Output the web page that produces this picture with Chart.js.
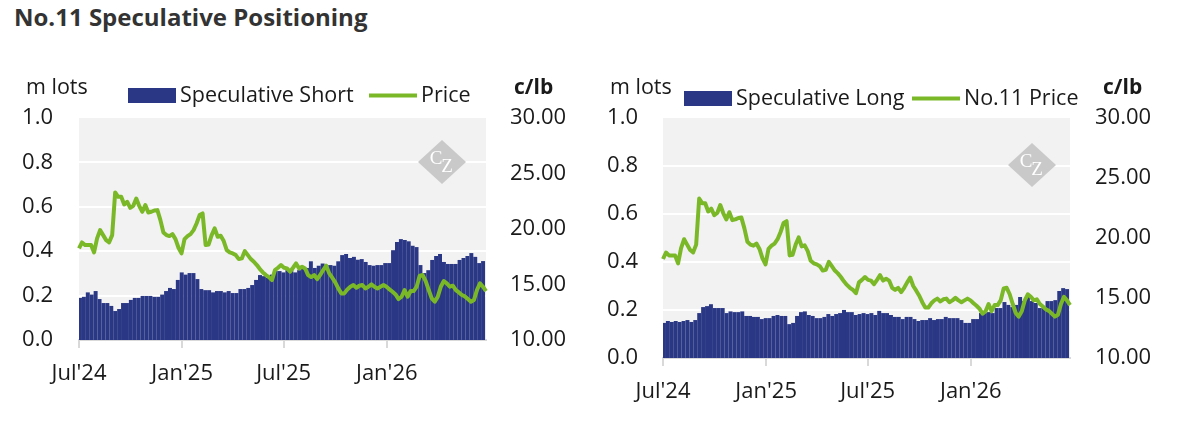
<!DOCTYPE html>
<html>
<head>
<meta charset="utf-8">
<script src="https://cdn.jsdelivr.net/npm/chart.js@4.4.0/dist/chart.umd.min.js"></script>
<style>
  body { margin: 0; background: #fff; font-family: 'Open Sans', sans-serif; }
  #wrap { position: relative; width: 1183px; height: 434px; overflow: hidden; }
  h1 { position: absolute; left: 14px; top: -1px; margin: 0; font-size: 24px; line-height: 36px; font-weight: bold; color: #333; }
  .box { position: absolute; top: 0; height: 434px; }
</style>
</head>
<body>
<div id="wrap">
  <h1>No.11 Speculative Positioning</h1>
  <div class="box" style="left:0;width:590px"><canvas id="left"></canvas></div>
  <div class="box" style="left:590px;width:593px"><canvas id="right"></canvas></div>
</div>
<script>
// time axis
const startDate = '2024-07-01';
const endDate = '2026-06-27';
const tickDates = ['2024-07-01', '2025-01-01', '2025-07-01', '2026-01-01'];
const tickLabels = ["Jul'24", "Jan'25", "Jul'25", "Jan'26"];

// weekly positions, m lots
const speculativeShort = [
  0.185, 0.19, 0.21, 0.20, 0.216, 0.18, 0.162, 0.162, 0.149, 0.126,
  0.135, 0.162, 0.162, 0.176, 0.185, 0.185, 0.194, 0.194, 0.194, 0.19,
  0.19, 0.20, 0.216, 0.23, 0.225, 0.266, 0.30, 0.29, 0.297, 0.297,
  0.27, 0.225, 0.22, 0.22, 0.21, 0.216, 0.216, 0.21, 0.216, 0.207,
  0.207, 0.225, 0.225, 0.23, 0.243, 0.266, 0.288, 0.283, 0.275, 0.29,
  0.306, 0.306, 0.30, 0.31, 0.31, 0.30, 0.31, 0.32, 0.32, 0.35,
  0.32, 0.33, 0.34, 0.333, 0.333, 0.33, 0.35, 0.378, 0.383, 0.365,
  0.37, 0.357, 0.36, 0.347, 0.333, 0.33, 0.333, 0.333, 0.342, 0.342,
  0.40, 0.437, 0.45, 0.446, 0.44, 0.42, 0.414, 0.333, 0.297, 0.31,
  0.356, 0.374, 0.383, 0.347, 0.338, 0.338, 0.338, 0.356, 0.365, 0.374,
  0.387, 0.37, 0.342, 0.351
];
const speculativeLong = [
  0.142, 0.15, 0.146, 0.15, 0.146, 0.15, 0.154, 0.146, 0.154, 0.183,
  0.208, 0.212, 0.22, 0.204, 0.204, 0.204, 0.183, 0.19, 0.187, 0.187,
  0.19, 0.171, 0.171, 0.167, 0.167, 0.158, 0.162, 0.162, 0.171, 0.175,
  0.171, 0.171, 0.137, 0.142, 0.171, 0.187, 0.19, 0.175, 0.171, 0.162,
  0.162, 0.167, 0.179, 0.171, 0.179, 0.183, 0.196, 0.187, 0.187, 0.175,
  0.179, 0.183, 0.179, 0.183, 0.175, 0.192, 0.183, 0.183, 0.175, 0.167,
  0.167, 0.158, 0.167, 0.167, 0.158, 0.15, 0.154, 0.154, 0.162, 0.154,
  0.158, 0.158, 0.167, 0.162, 0.162, 0.162, 0.154, 0.142, 0.142, 0.158,
  0.158, 0.183, 0.183, 0.187, 0.183, 0.204, 0.204, 0.229, 0.217, 0.208,
  0.217, 0.25, 0.233, 0.25, 0.233, 0.225, 0.204, 0.204, 0.233, 0.233,
  0.237, 0.275, 0.287, 0.283
];
// No.11 price, c/lb
const no11Price = [
  18.25, 18.79, 18.55, 18.55, 18.55, 17.89, 19.15, 19.9, 19.45, 19.0,
  18.8, 19.45, 23.29, 22.9, 22.9, 22.21, 22.45, 21.91, 22.09, 22.75,
  22.06, 21.55, 22.15, 21.49, 21.55, 21.67, 21.7, 20.8, 19.69, 19.45,
  19.36, 19.54, 19.09, 18.31, 17.8, 19.09, 19.36, 19.54, 19.9, 20.5,
  21.25, 21.4, 18.55, 18.61, 19.45, 20.05, 19.3, 19.39, 18.91, 18.1,
  17.89, 17.8, 17.65, 17.29, 17.35, 18.01, 17.65, 17.29, 17.05, 16.75,
  16.39, 16.09, 15.85, 15.67, 15.4, 16.3, 16.51, 16.75, 16.51, 16.45,
  16.15, 16.51, 16.9, 16.45, 16.6, 16.45, 15.85, 15.67, 15.85, 15.49,
  15.85, 16.3, 16.7, 16.0, 15.61, 15.19, 14.65, 14.2, 14.2, 14.56,
  14.8, 14.95, 14.71, 14.89, 14.95, 14.65, 14.8, 15.01, 14.8, 14.65,
  14.8, 14.95, 14.8, 14.56, 14.35, 14.11, 13.69, 13.9, 14.5, 13.9,
  14.41, 14.41, 14.8, 15.79, 15.85, 15.31, 14.5, 13.75, 13.45, 13.9,
  14.8, 15.31, 15.1, 14.8, 14.89, 14.5, 14.29, 14.05, 13.93, 13.69,
  13.45, 13.6, 14.5, 15.1, 14.8, 14.41
];

const NAVY = '#2a3784';
const GREEN = '#7ab828';
const TEXT = '#1a1a1a';
const FONT = 'Open Sans';

function dayOf(d) {
  return (Date.parse(d) - Date.parse(startDate)) / 86400000;
}

function weekLabels(n) {
  const out = [];
  for (let i = 0; i < n; i++) {
    out.push(new Date(Date.parse(startDate) + i * 7 * 86400000).toISOString().slice(0, 10));
  }
  return out;
}

// plot background, watermark, legend and unit labels
const decor = {
  id: 'decor',
  beforeDraw(chart) {
    const { ctx, chartArea: a } = chart;
    ctx.save();
    ctx.fillStyle = '#f2f2f2';
    ctx.fillRect(a.left, a.top, a.right - a.left, a.bottom - a.top);
    ctx.restore();
  },
  beforeDatasetsDraw(chart, args, o) {
    const { ctx, chartArea: a } = chart;
    const cx = a.right + o.wmDX, cy = a.top + o.wmDY;
    ctx.save();
    ctx.fillStyle = '#c9c9c9';
    ctx.beginPath();
    ctx.moveTo(cx, cy - 22);
    ctx.lineTo(cx + 24, cy);
    ctx.lineTo(cx, cy + 22);
    ctx.lineTo(cx - 24, cy);
    ctx.closePath();
    ctx.fill();
    ctx.fillStyle = '#fff';
    ctx.font = '19px "Liberation Serif"';
    ctx.textAlign = 'center';
    ctx.textBaseline = 'middle';
    ctx.fillText('C', cx - 6, cy - 3);
    ctx.fillText('Z', cx + 5, cy + 5);
    ctx.restore();
  },
  afterDraw(chart, args, o) {
    const ctx = chart.ctx;
    const [bars, line] = chart.data.datasets;
    ctx.save();
    ctx.fillStyle = TEXT;
    ctx.textBaseline = 'alphabetic';
    ctx.font = `21.5px "${FONT}"`;
    ctx.fillText('m lots', o.mlotsX, o.unitY);
    ctx.fillText(bars.label, o.barKeyX + 52, o.keyText);
    ctx.fillText(line.label, o.lineKeyX + 52, o.keyText);
    ctx.font = `bold 21px "${FONT}"`;
    ctx.fillText('c/lb', o.clbX, o.unitY);
    ctx.fillStyle = bars.backgroundColor;
    ctx.fillRect(o.barKeyX, o.keyMid - 7.5, 48, 15);
    ctx.strokeStyle = line.borderColor;
    ctx.lineWidth = 4;
    ctx.beginPath();
    ctx.moveTo(o.lineKeyX, o.keyMid);
    ctx.lineTo(o.lineKeyX + 48, o.keyMid);
    ctx.stroke();
    ctx.restore();
  }
};

function makeChart(id, barLabel, barValues, lineLabel, g) {
  const tickFont = { family: FONT, size: 22 };
  return new Chart(document.getElementById(id), {
    type: 'bar',
    data: {
      datasets: [
        {
          type: 'bar',
          label: barLabel,
          data: barValues,
          backgroundColor: NAVY,
          borderWidth: 0,
          barPercentage: 1,
          categoryPercentage: 1,
          inflateAmount: 1,
          xAxisID: 'xb',
          yAxisID: 'y',
          order: 2
        },
        {
          type: 'line',
          label: lineLabel,
          data: no11Price,
          borderColor: GREEN,
          backgroundColor: GREEN,
          borderWidth: 4,
          pointRadius: 0,
          tension: 0,
          borderJoinStyle: 'round',
          xAxisID: 'xl',
          yAxisID: 'y1',
          order: 1
        }
      ]
    },
    options: {
      responsive: true,
      maintainAspectRatio: false,
      animation: false,
      layout: { padding: { top: 118, left: 0, right: 0, bottom: 0 } },
      plugins: {
        legend: { display: false },
        tooltip: { enabled: false },
        decor: g
      },
      scales: {
        x: {
          type: 'linear',
          position: 'bottom',
          offset: false,
          min: 0,
          max: dayOf(endDate),
          afterBuildTicks: s => { s.ticks = tickDates.map(d => ({ value: dayOf(d) })); },
          afterFit: s => { s.height = 434 - g.bottom; },
          ticks: {
            callback: (v, i) => tickLabels[i],
            font: tickFont,
            color: TEXT,
            padding: 13,
            maxRotation: 0,
            autoSkip: false
          },
          grid: { offset: false, drawOnChartArea: false, drawTicks: true, tickLength: 8, color: '#d9d9d9', lineWidth: 2 },
          border: { display: true, color: '#d9d9d9', width: 2 }
        },
        xb: {
          type: 'category',
          labels: weekLabels(barValues.length),
          offset: true,
          display: false,
          grid: { offset: true }
        },
        xl: {
          type: 'category',
          labels: no11Price.map((p, i) => String(i)),
          offset: false,
          display: false,
          grid: { offset: false }
        },
        y: {
          position: 'left',
          min: 0,
          max: 1,
          afterFit: s => { s.width = g.left; },
          ticks: { stepSize: 0.2, callback: v => v.toFixed(1), font: tickFont, color: TEXT, padding: g.tickPad },
          grid: {
            color: c => (c.tick.value > 0.01 && c.tick.value < 0.99) ? '#ffffff' : 'rgba(0,0,0,0)',
            lineWidth: 2,
            drawTicks: false
          },
          border: { display: false }
        },
        y1: {
          position: 'right',
          min: 10,
          max: 30,
          afterFit: s => { s.width = g.width - g.right; },
          ticks: { stepSize: 5, callback: v => v.toFixed(2), font: tickFont, color: TEXT, padding: g.rTickPad },
          grid: { drawOnChartArea: false, drawTicks: false },
          border: { display: false }
        }
      }
    },
    plugins: [decor]
  });
}

makeChart('left', 'Speculative Short', speculativeShort, 'Price', {
  width: 590, left: 79, right: 486, bottom: 340, tickPad: 26, rTickPad: 24,
  mlotsX: 26, clbX: 514, unitY: 94, keyMid: 95.5, keyText: 102,
  barKeyX: 128, lineKeyX: 369, wmDX: -44, wmDY: 44
});
makeChart('right', 'Speculative Long', speculativeLong, 'No.11 Price', {
  width: 593, left: 73, right: 480, bottom: 358, tickPad: 25, rTickPad: 25,
  mlotsX: 20, clbX: 513, unitY: 94, keyMid: 98.5, keyText: 105,
  barKeyX: 94, lineKeyX: 322, wmDX: -38, wmDY: 47
});
</script>
</body>
</html>
